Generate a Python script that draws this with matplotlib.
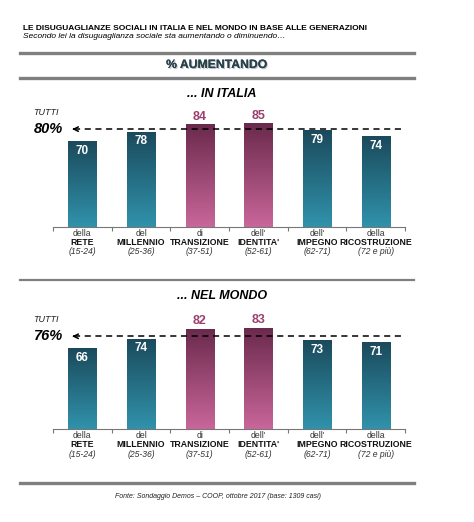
import matplotlib.pyplot as plt
import matplotlib.patheffects as pe
import numpy as np

plt.rcParams["font.family"] = ["Liberation Sans", "DejaVu Sans"]

# data
gen_article = ["della", "del", "di", "dell'", "dell'", "della"]
gen_name = ["RETE", "MILLENNIO", "TRANSIZIONE", "IDENTITA'", "IMPEGNO", "RICOSTRUZIONE"]
gen_age = ["(15-24)", "(25-36)", "(37-51)", "(52-61)", "(62-71)", "(72 e più)"]
italia = [70, 78, 84, 85, 79, 74]
mondo = [66, 74, 82, 83, 73, 71]
tutti_italia = 80
tutti_mondo = 76
highlight = [False, False, True, True, False, False]

teal_top, teal_bot = "#1b4a5c", "#3092ab"
mag_top, mag_bot = "#6a2a4c", "#c9669a"
mag_text = "#9b3f6e"


def hex2rgb(h):
    h = h.lstrip("#")
    return np.array([int(h[i:i + 2], 16) / 255 for i in (0, 2, 4)])


def grad(top, bot):
    t = np.linspace(0, 1, 100)[:, None]
    img = hex2rgb(top)[None, :] * (1 - t) + hex2rgb(bot)[None, :] * t
    return img[:, None, :]


def draw_panel(ax, values, tutti, title):
    x = np.arange(len(values))
    bars = ax.bar(x, values, width=0.48, color="none", edgecolor="none")
    for b, v, hl in zip(bars, values, highlight):
        top, bot = (mag_top, mag_bot) if hl else (teal_top, teal_bot)
        x0 = b.get_x()
        im = ax.imshow(grad(top, bot), extent=[x0, x0 + b.get_width(), 0, v],
                       origin="upper", aspect="auto", zorder=2)
        im.set_clip_path(b)
        cx = x0 + b.get_width() / 2
        if hl:
            ax.text(cx, v + 1.2, str(v), ha="center", va="bottom", fontsize=9,
                    fontweight="bold", color=mag_text, zorder=4)
        else:
            ax.text(cx, v - 3, str(v), ha="center", va="top", fontsize=8.5,
                    fontweight="bold", color="white", zorder=4)

    ax.set_xlim(-0.5, 5.5)
    ax.set_ylim(0, 100)
    for s in ["top", "right", "left"]:
        ax.spines[s].set_visible(False)
    ax.spines["bottom"].set_color("#777777")
    ax.spines["bottom"].set_linewidth(0.8)
    ax.set_yticks([])
    ax.set_xticks(np.arange(-0.5, 6, 1))
    ax.set_xticklabels([])
    ax.tick_params(axis="x", length=3, color="#777777", width=0.8)

    # dashed "tutti" line
    ax.plot([-0.15, 5.47], [tutti, tutti], ls=(0, (4, 3)), color="black", lw=1.1,
            zorder=3, clip_on=False)
    ax.annotate("", xy=(-0.22, tutti), xytext=(-0.08, tutti),
                arrowprops=dict(arrowstyle="->", color="black", lw=1.1,
                                mutation_scale=8), annotation_clip=False)
    ax.text(-0.83, tutti, f"{tutti}%", ha="left", va="center", fontsize=10.5,
            fontweight="bold", style="italic")
    ax.text(-0.83, tutti + 14, "TUTTI", ha="left", va="center", fontsize=6.5,
            style="italic", color="#222222")
    ax.text(2.38, 1.09, title, transform=ax.get_xaxis_transform(), ha="center",
            va="center", fontsize=9, fontweight="bold", style="italic")

    # category labels
    tr = ax.get_xaxis_transform()
    for i in range(len(values)):
        ax.annotate(gen_article[i], (i, 0), xycoords=tr, xytext=(0, -4.6),
                    textcoords="offset points", ha="center", va="center",
                    fontsize=6.2, color="#333333")
        ax.annotate(gen_name[i], (i, 0), xycoords=tr, xytext=(0, -11.2),
                    textcoords="offset points", ha="center", va="center",
                    fontsize=6.3, fontweight="bold", color="#111111")
        ax.annotate(gen_age[i], (i, 0), xycoords=tr, xytext=(0, -18.2),
                    textcoords="offset points", ha="center", va="center",
                    fontsize=6.2, style="italic", color="#333333")


fig = plt.figure(figsize=(4.74, 5.22), dpi=100)
W, H = 474, 522

ax1 = fig.add_axes([53 / W, 1 - 226.7 / H, 352 / W, 122 / H])
ax2 = fig.add_axes([53 / W, 1 - 429 / H, 352 / W, 122 / H])
draw_panel(ax1, italia, tutti_italia, "... IN ITALIA")
draw_panel(ax2, mondo, tutti_mondo, "... NEL MONDO")

# header
fig.text(23 / W, 1 - 28 / H, "LE DISUGUAGLIANZE SOCIALI IN ITALIA E NEL MONDO IN BASE ALLE GENERAZIONI",
         ha="left", va="center", fontsize=6.0, fontweight="bold")
fig.text(23 / W, 1 - 37 / H, "Secondo lei la disuguaglianza sociale sta aumentando o diminuendo…",
         ha="left", va="center", fontsize=6.0, style="italic")
fig.text(217 / W, 1 - 65 / H, "% AUMENTANDO", ha="center", va="center", fontsize=8.8,
         fontweight="bold", color="#27414c",
         path_effects=[pe.withSimplePatchShadow(offset=(0.8, -0.8), shadow_rgbFace="#999999", alpha=0.6),
                       pe.Normal()])

for y, lw in [(53, 2.4), (78, 2.4), (280, 1.6), (483, 2.4)]:
    fig.add_artist(plt.Line2D([20 / W, 414 / W], [1 - y / H, 1 - y / H], color="#7f7f7f", lw=lw))

fig.text(218 / W, 1 - 496 / H, "Fonte: Sondaggio Demos – COOP, ottobre 2017 (base: 1309 casi)",
         ha="center", va="center", fontsize=5.0, style="italic", color="#222222")

fig.savefig("out.png", dpi=100)
